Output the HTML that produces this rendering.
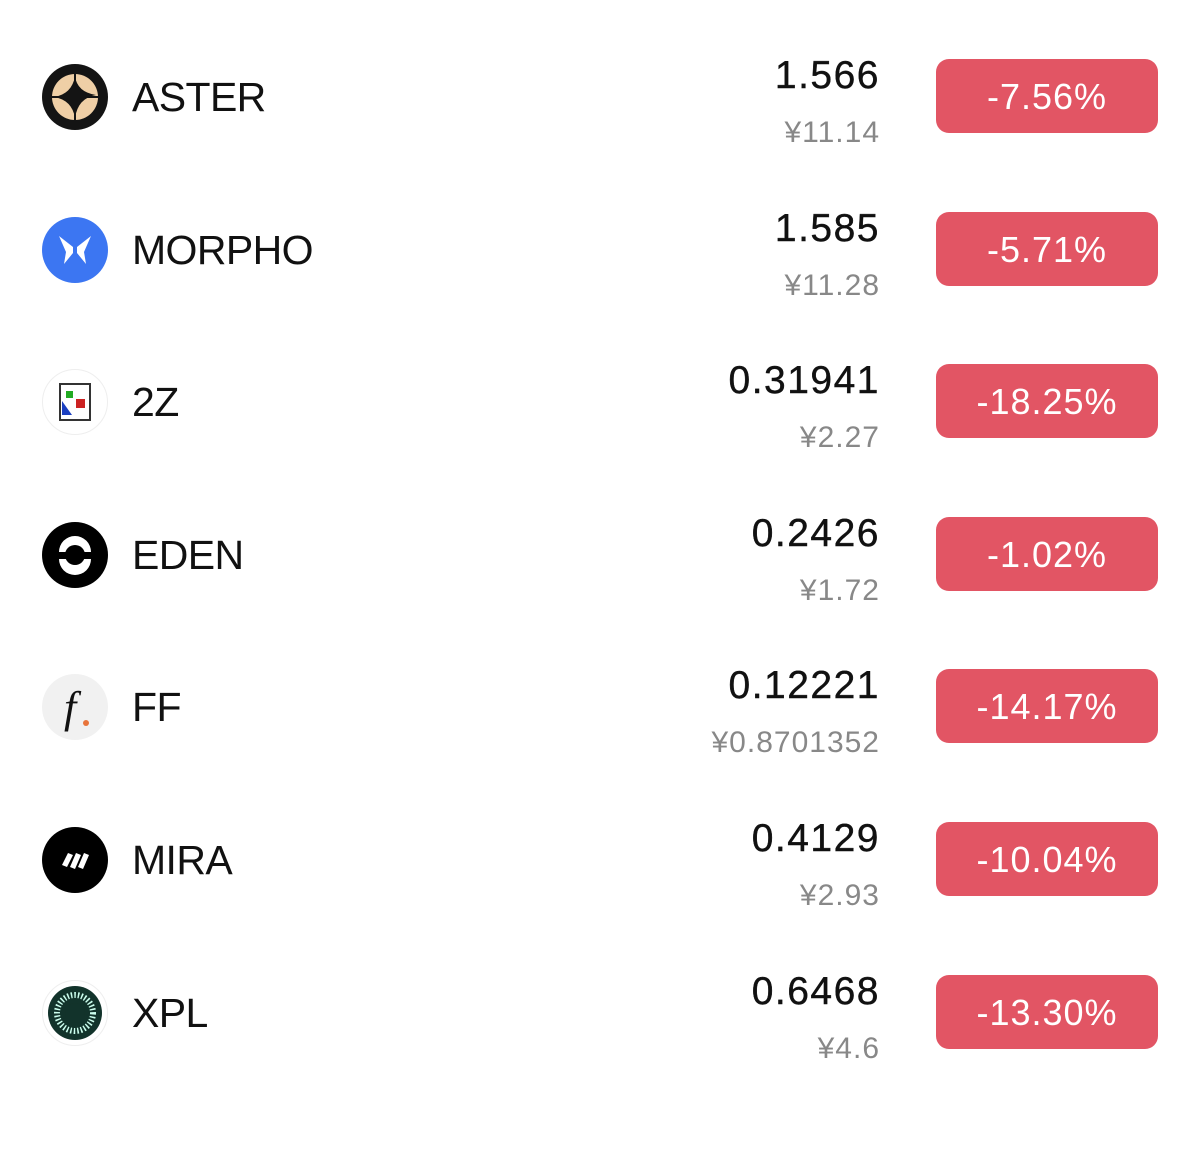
<!DOCTYPE html>
<html><head><meta charset="utf-8"><style>
html,body{margin:0;padding:0;background:#fff;width:1200px;height:1077px;overflow:hidden;font-family:"Liberation Sans","Noto Sans CJK SC",sans-serif}
.row{position:absolute;left:0;width:1200px;height:153px}
.ic{position:absolute;left:42px;top:-33px;width:66px;height:66px}
.nm{position:absolute;left:132px;top:-25px;font-size:41px;line-height:50px;color:#111;letter-spacing:-0.6px}
.pr{position:absolute;right:320px;top:-43px;font-size:39px;line-height:44px;color:#111;letter-spacing:1.5px;-webkit-text-stroke:0.4px #111}
.cy{position:absolute;right:320px;top:19px;font-size:30px;line-height:34px;color:#888;letter-spacing:1px}
.bd{position:absolute;left:936px;top:-38px;width:222px;height:74px;border-radius:13px;background:#e25564;color:#fff;font-size:36px;line-height:76px;text-align:center;letter-spacing:1px}
</style></head><body>

<div class="row" style="top:97px">
<svg class="ic" viewBox="0 0 66 66"><circle cx="33" cy="33" r="33" fill="#141414"/><circle cx="33" cy="33" r="23" fill="#efcfa6"/><path d="M33 12 Q35 28 54 31 Q36 34 33 54 Q30 36 12 33 Q30 30 33 12Z" fill="#141414"/><path d="M33 10V56M10 33H56" stroke="#141414" stroke-width="2"/></svg>
<div class="nm">ASTER</div><div class="pr">1.566</div><div class="cy">¥11.14</div><div class="bd">-7.56%</div></div>

<div class="row" style="top:250px">
<svg class="ic" viewBox="0 0 66 66"><circle cx="33" cy="33" r="33" fill="#3c76f2"/><path d="M17 19 L31 30 L31 36 L22 47 L24 35 Z M49 19 L35 30 L35 36 L44 47 L42 35 Z" fill="#fff"/></svg>
<div class="nm">MORPHO</div><div class="pr">1.585</div><div class="cy">¥11.28</div><div class="bd">-5.71%</div></div>

<div class="row" style="top:402px">
<svg class="ic" viewBox="0 0 66 66"><circle cx="33" cy="33" r="32.5" fill="#fff" stroke="#eee"/><rect x="18" y="15" width="30" height="36" fill="#fff" stroke="#333" stroke-width="2"/><rect x="24" y="22" width="7" height="7" fill="#2a2"/><polygon points="20,32 20,46 30,46" fill="#1a3fc0"/><rect x="34" y="30" width="9" height="9" fill="#c22"/></svg>
<div class="nm">2Z</div><div class="pr">0.31941</div><div class="cy">¥2.27</div><div class="bd">-18.25%</div></div>

<div class="row" style="top:555px">
<svg class="ic" viewBox="0 0 66 66"><circle cx="33" cy="33" r="33" fill="#000"/><path d="M17 30 A16 16 0 0 1 49 30 Z M17 37 A16 16 0 0 0 49 37 Z" fill="#fff"/><circle cx="33" cy="33" r="10" fill="#000"/></svg>
<div class="nm">EDEN</div><div class="pr">0.2426</div><div class="cy">¥1.72</div><div class="bd">-1.02%</div></div>

<div class="row" style="top:707px">
<svg class="ic" viewBox="0 0 66 66"><circle cx="33" cy="33" r="33" fill="#f1f1f1"/><text x="22" y="48" font-family="Liberation Serif" font-style="italic" font-size="44" fill="#111">f</text><circle cx="44" cy="49" r="3" fill="#e8743b"/></svg>
<div class="nm">FF</div><div class="pr">0.12221</div><div class="cy">¥0.8701352</div><div class="bd">-14.17%</div></div>

<div class="row" style="top:860px">
<svg class="ic" viewBox="0 0 66 66"><circle cx="33" cy="33" r="33" fill="#000"/><path d="M20 38 L26 26 L31 28 L25 40Z M28 40 L34 26 L39 28 L33 42Z M36 40 L42 26 L47 28 L41 42Z" fill="#fff"/></svg>
<div class="nm">MIRA</div><div class="pr">0.4129</div><div class="cy">¥2.93</div><div class="bd">-10.04%</div></div>

<div class="row" style="top:1013px">
<svg class="ic" viewBox="0 0 66 66"><circle cx="33" cy="33" r="32.5" fill="#fff" stroke="#eee"/><circle cx="33" cy="33" r="27" fill="#12332b"/><circle cx="33" cy="33" r="18" fill="none" stroke="#cfe" stroke-width="6" stroke-dasharray="1.5 2"/><circle cx="33" cy="33" r="10" fill="#12332b"/></svg>
<div class="nm">XPL</div><div class="pr">0.6468</div><div class="cy">¥4.6</div><div class="bd">-13.30%</div></div>

</body></html>
